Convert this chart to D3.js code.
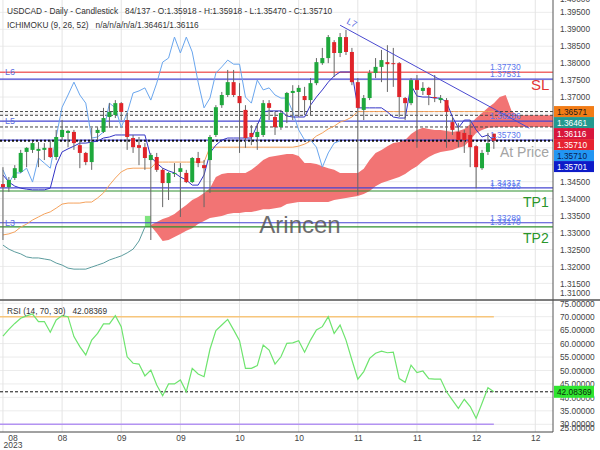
<!DOCTYPE html>
<html>
<head>
<meta charset="utf-8">
<title>USDCAD Daily</title>
<script src="https://cdn.jsdelivr.net/npm/d3@7/dist/d3.min.js"></script>
<style>
  body { margin: 0; background: #fff; }
  text { font-family: "Liberation Sans", Arial, sans-serif; }
</style>
</head>
<body>
<svg id="chart" width="600" height="450"></svg>
<script>
// ---- data (index 0 = first visible daily candle) ----
const opens = [1.3443,1.3434,1.3461,1.3479,1.3538,1.3544,1.3541,1.3544,1.3550,1.3523,
  1.3582,1.3594,1.3597,1.3558,1.3535,1.3508,1.3594,1.3597,1.3641,1.3647,
  1.3682,1.3632,1.3579,1.3558,1.3552,1.3514,1.3523,1.3485,1.3446,1.3473,
  1.3479,1.3476,1.3449,1.3520,1.3499,1.3514,1.3588,1.3676,1.3706,1.3744,
  1.3703,1.3662,1.3594,1.3582,1.3588,1.3682,1.3641,1.3611,1.3656,1.3712,
  1.3715,1.3703,1.3691,1.3741,1.3800,1.3815,1.3862,1.3830,1.3877,1.3833,
  1.3744,1.3662,1.3697,1.3771,1.3789,1.3803,1.3800,1.3800,1.3697,1.3682,
  1.3750,1.3718,1.3727,1.3700,1.3691,1.3691,1.3626,1.3597,1.3594,1.3588,
  1.3555,1.3490,1.3538,1.35918];
const highs = [1.3493,1.3464,1.3499,1.3544,1.3552,1.3567,1.3567,1.3564,1.3573,1.3603,
  1.3632,1.3603,1.3603,1.3573,1.3538,1.3609,1.3611,1.3668,1.3682,1.3691,
  1.3685,1.3653,1.3588,1.3582,1.3564,1.3535,1.3535,1.3490,1.3479,1.3505,
  1.3505,1.3485,1.3523,1.3538,1.3514,1.3588,1.3676,1.3715,1.3780,1.3780,
  1.3741,1.3676,1.3617,1.3623,1.3691,1.3691,1.3656,1.3662,1.3715,1.3735,
  1.3735,1.3730,1.3756,1.3815,1.3845,1.3883,1.3868,1.3889,1.3898,1.3845,
  1.3756,1.3706,1.3780,1.3815,1.3839,1.3853,1.3845,1.3803,1.3700,1.3756,
  1.3765,1.3744,1.3730,1.3765,1.3706,1.3697,1.3641,1.3623,1.3603,1.3632,
  1.3558,1.3544,1.3594,1.35918];
const lows = [1.3278,1.3420,1.3455,1.3476,1.3493,1.3535,1.3493,1.3514,1.3520,1.3514,
  1.3573,1.3552,1.3544,1.3490,1.3499,1.3485,1.3573,1.3594,1.3609,1.3638,
  1.3632,1.3544,1.3535,1.3499,1.3485,1.3278,1.3479,1.3375,1.3396,1.3464,
  1.3346,1.3446,1.3446,1.3493,1.3375,1.3417,1.3582,1.3668,1.3700,1.3700,
  1.3535,1.3550,1.3558,1.3544,1.3582,1.3632,1.3588,1.3603,1.3623,1.3632,
  1.3641,1.3647,1.3647,1.3735,1.3795,1.3800,1.3759,1.3818,1.3824,1.3735,
  1.3411,1.3632,1.3691,1.3756,1.3744,1.3715,1.3730,1.3641,1.3632,1.3676,
  1.3550,1.3706,1.3676,1.3685,1.3682,1.3550,1.3588,1.3552,1.3535,1.3493,
  1.3431,1.3485,1.3529,1.35470];
const closes = [1.3434,1.3455,1.3490,1.3535,1.3550,1.3564,1.3547,1.3550,1.3523,1.3582,
  1.3603,1.3600,1.3564,1.3535,1.3508,1.3567,1.3603,1.3638,1.3656,1.3682,
  1.3656,1.3582,1.3552,1.3550,1.3520,1.3529,1.3485,1.3446,1.3476,1.3476,
  1.3490,1.3449,1.3520,1.3505,1.3490,1.3582,1.3670,1.3706,1.3744,1.3706,
  1.3682,1.3579,1.3582,1.3597,1.3682,1.3668,1.3611,1.3653,1.3712,1.3718,
  1.3727,1.3691,1.3741,1.3803,1.3815,1.3877,1.3830,1.3877,1.3833,1.3744,
  1.3668,1.3697,1.3771,1.3789,1.3809,1.3797,1.3797,1.3700,1.3682,1.3750,
  1.3721,1.3727,1.3706,1.3697,1.3697,1.3656,1.3603,1.3573,1.3573,1.3552,
  1.3493,1.3535,1.3564,1.35710];

// Ichimoku (9, 26, 52)
const tenkan = [1.3470,1.3449,1.3437,1.3431,1.3428,1.3426,1.3426,1.3426,1.3431,1.3499,
  1.3538,1.3547,1.3555,1.3564,1.3564,1.3567,1.3570,1.3579,1.3582,1.3588,
  1.3588,1.3588,1.3588,1.3588,1.3588,1.3523,1.3505,1.3490,1.3482,1.3476,
  1.3464,1.3455,1.3440,1.3440,1.3470,1.3535,1.3558,1.3573,1.3579,1.3579,
  1.3579,1.3579,1.3579,1.3617,1.3656,1.3659,1.3659,1.3659,1.3644,1.3641,
  1.3641,1.3641,1.3676,1.3700,1.3721,1.3744,1.3762,1.3774,1.3774,1.3774,
  1.3668,1.3668,1.3668,1.3668,1.3668,1.3656,1.3641,1.3638,1.3638,1.3735,
  1.3703,1.3700,1.3700,1.3697,1.3697,1.3685,1.3641,1.3609,1.3632,1.3632,
  1.3603,1.3582,1.3588,1.35701];
const kijun = [1.3293,1.3296,1.3302,1.3316,1.3325,1.3337,1.3346,1.3355,1.3361,1.3372,
  1.3384,1.3387,1.3387,1.3387,1.3390,1.3390,1.3402,1.3417,1.3440,1.3461,
  1.3479,1.3488,1.3490,1.3490,1.3490,1.3490,1.3508,1.3508,1.3508,1.3508,
  1.3508,1.3508,1.3508,1.3508,1.3508,1.3552,1.3552,1.3552,1.3552,1.3552,
  1.3552,1.3552,1.3552,1.3552,1.3552,1.3552,1.3552,1.3552,1.3552,1.3552,
  1.3555,1.3561,1.3570,1.3585,1.3594,1.3606,1.3614,1.3626,1.3632,1.3641,
  1.36571,1.36571,1.36571,1.36571,1.36571,1.36571,1.36571,1.36571,1.36571,1.36571,
  1.36571,1.36571,1.36571,1.36571,1.36571,1.36571,1.36571,1.36571,1.36571,1.36571,
  1.36571,1.36571,1.36571,1.36571];
// senkou spans run 10 periods past the last candle (to the right edge)
const senkouA = [1.3263,1.3251,1.3243,1.3237,1.3228,1.3225,1.3225,1.3222,1.3219,1.3210,
  1.3204,1.3195,1.3192,1.3192,1.3192,1.3198,1.3204,1.3210,1.3219,1.3225,
  1.3231,1.3240,1.3251,1.3275,1.3316,1.3322,1.3331,1.3340,1.3346,1.3355,
  1.3369,1.3381,1.3396,1.3405,1.3417,1.3431,1.3464,1.3473,1.3476,1.3476,
  1.3476,1.3476,1.3485,1.3499,1.3514,1.3523,1.3526,1.3529,1.3532,1.3532,
  1.3526,1.3505,1.3505,1.3502,1.3496,1.3490,1.3485,1.3476,1.3476,1.3476,
  1.3476,1.3488,1.3514,1.3535,1.3544,1.3555,1.3564,1.3567,1.3573,1.3591,
  1.3603,1.3609,1.3606,1.3603,1.3603,1.3600,1.3597,1.3600,1.3606,1.3620,
  1.3638,1.3653,1.3668,1.3682,1.3700,1.3706,1.3659,1.36461,1.36461,1.36461,
  1.36461,1.36461,1.36461,1.36461];
const senkouB = [null,null,null,null,null,null,null,null,null,null,
  null,null,null,null,null,null,null,null,null,null,
  null,null,null,null,1.3349,1.3319,1.3299,1.3275,1.3278,1.3287,
  1.3296,1.3305,1.3313,1.3325,1.3334,1.3343,1.3346,1.3349,1.3355,1.3358,
  1.3358,1.3361,1.3361,1.3364,1.3369,1.3369,1.3372,1.3375,1.3384,1.3387,
  1.3390,1.3390,1.3390,1.3390,1.3390,1.3390,1.3396,1.3399,1.3402,1.3405,
  1.3408,1.3414,1.3423,1.3437,1.3446,1.3452,1.3458,1.3464,1.3473,1.3485,
  1.3496,1.3511,1.3523,1.3532,1.3538,1.3541,1.3544,1.3550,1.3555,1.3573,
  1.3594,1.3603,1.3609,1.3611,1.36116,1.36116,1.36116,1.36116,1.36116,1.36116,
  1.36116,1.36116,1.36116,1.36116];
const chikouShift = 26;

// RSI (14, 70, 30)
const rsi = [62.8,65.3,67.5,69.4,70.3,71.0,68.2,68.2,64.2,68.8,
  70.4,70.0,62.6,58.9,55.8,61.3,63.8,67.3,67.3,70.4,
  66.3,55.1,52.7,52.4,48.0,50.2,44.6,40.6,45.0,45.0,
  46.5,42.1,50.8,48.7,47.7,57.9,64.8,66.9,69.0,65.1,
  61.1,50.8,50.8,51.8,59.5,57.6,52.4,55.1,60.1,60.3,
  61.1,56.8,61.3,65.1,66.3,70.0,63.8,66.9,61.3,53.9,
  46.8,49.6,54.5,56.4,57.2,56.6,56.8,47.0,45.6,52.0,
  49.2,49.8,47.0,46.8,46.8,42.1,39.0,35.9,39.3,36.6,
  32.2,37.8,43.6,42.08369];

// drawn levels
const levelL6 = 1.37730, levelSL = 1.37531, levelL5 = 1.36286, levelNear = 1.35730;
const levelL4a = 1.34317, levelTP1 = 1.34226, levelL3 = 1.33289, levelTP2 = 1.33170;
const dashedLevels = [1.36571, 1.36461, 1.36116];
const lastPrice = 1.35710;
const trendIdx = [57, 89], trendPrice = [1.3912, 1.3608];

// axes
const priceTicks = d3.range(0, 19).map(k => +(1.31 + k * 0.005).toFixed(3));
const rsiTicks = [25, 30, 35, 40, 45, 50, 55, 60, 65, 70, 75];
const xTickIdx = [0, 10, 20, 30, 40, 50, 60, 70, 80, 90];
const xTickLabels = ["08", "08", "09", "09", "10", "10", "11", "11", "12", "12"];

// right-hand value tags
const tagValues = [1.36571, 1.36461, 1.36116, 1.35710, 1.35710, 1.35701];
const tagFill = ["#f27c16", "#23998f", "#d8163c", "#e62230", "#2196f3", "#0d1bc8"];
const tagText = ["#1a1a1a", "#fff", "#fff", "#fff", "#0b2050", "#fff"];

// ---- layout ----
const svg = d3.select("#chart");
const plotR = 553, mainBottom = 300, rsiBottom = 432;

const x = d3.scaleLinear().domain([-0.5, 93]).range([0, plotR]);
const y = d3.scaleLinear().domain([1.31, 1.40]).range([300.3, -4.6]);
const yr = d3.scaleLinear().domain([30, 70]).range([424.3, 316.7]);

const defs = svg.append("defs");
defs.append("clipPath").attr("id", "clipMain").append("rect")
  .attr("x", 0).attr("y", 0).attr("width", plotR).attr("height", mainBottom);
defs.append("clipPath").attr("id", "clipRsi").append("rect")
  .attr("x", 0).attr("y", mainBottom).attr("width", plotR).attr("height", rsiBottom - mainBottom);

// grid
const grid = svg.append("g");
grid.selectAll(".hg").data(priceTicks).enter().append("line")
  .attr("x1", 0).attr("x2", plotR).attr("y1", d => y(d)).attr("y2", d => y(d))
  .attr("stroke", "#ececec");
grid.selectAll(".rg").data(rsiTicks.filter(d => d > 25)).enter().append("line")
  .attr("x1", 0).attr("x2", plotR).attr("y1", d => yr(d)).attr("y2", d => yr(d))
  .attr("stroke", "#ececec");
grid.selectAll(".vg").data(xTickIdx).enter().append("line")
  .attr("x1", d => x(d)).attr("x2", d => x(d)).attr("y1", 0).attr("y2", rsiBottom)
  .attr("stroke", "#e4e4e4");

const main = svg.append("g").attr("clip-path", "url(#clipMain)");

// cloud (red where span A is above span B, green otherwise)
const cloudIdx = d3.range(0, senkouA.length).filter(i => senkouB[i] !== null);
main.append("path").datum(cloudIdx)
  .attr("d", d3.area().x(i => x(i)).y0(i => y(senkouB[i]))
    .y1(i => y(Math.max(senkouA[i], senkouB[i]))))
  .attr("fill", "#f27474");
main.append("path").datum(cloudIdx)
  .attr("d", d3.area().curve(d3.curveStepAfter).x(i => x(i)).y0(i => y(senkouB[i]))
    .y1(i => y(Math.min(senkouA[i], senkouB[i]))))
  .attr("fill", "#7fe47f");

// horizontal levels
function hline(p, color, width, dash) {
  main.append("line").attr("x1", 0).attr("x2", plotR)
    .attr("y1", y(p)).attr("y2", y(p))
    .attr("stroke", color).attr("stroke-width", width)
    .attr("stroke-dasharray", dash || null);
}
dashedLevels.forEach(p => hline(p, "#444", 1, "3,2"));
hline(levelL6, "#f06a6a", 1.5);
hline(levelSL, "#4646d2", 1.2);
hline(levelL5, "#4646d2", 1.2);
hline(levelNear, "#4646d2", 1.2);
hline(levelL4a, "#4646d2", 1.2);
hline(levelTP1, "#2f8f2f", 1.2);
hline(levelL3, "#4646d2", 1.2);
hline(levelTP2, "#2f8f2f", 1.2);
hline(lastPrice, "#111", 2, "2,2");

// ichimoku lines
const line = d3.line().defined(d => d[1] !== null).x(d => x(d[0])).y(d => y(d[1]));
main.append("path").datum(d3.range(0, 25).map(i => [i, senkouA[i]]))
  .attr("d", line).attr("fill", "none").attr("stroke", "#5c9c9e").attr("stroke-width", 1);
main.append("path").datum(kijun.map((v, i) => [i, v]))
  .attr("d", line).attr("fill", "none").attr("stroke", "#f5a25c").attr("stroke-width", 1);
main.append("path").datum(closes.slice(chikouShift).map((v, i) => [i, v]))
  .attr("d", line).attr("fill", "none").attr("stroke", "#6aa6ee").attr("stroke-width", 1);
main.append("path").datum(tenkan.map((v, i) => [i, v]))
  .attr("d", line).attr("fill", "none").attr("stroke", "#3434c6").attr("stroke-width", 1);

// candles
const candles = main.selectAll(".c").data(opens.map((o, i) => ({ i, o, h: highs[i], l: lows[i], c: closes[i] })))
  .enter().append("g");
candles.append("line")
  .attr("x1", d => x(d.i)).attr("x2", d => x(d.i))
  .attr("y1", d => y(d.h)).attr("y2", d => y(d.l))
  .attr("stroke", "#666").attr("stroke-width", 1);
candles.append("rect")
  .attr("x", d => x(d.i) - 2).attr("width", 4)
  .attr("y", d => y(Math.max(d.o, d.c)))
  .attr("height", d => Math.max(1, Math.abs(y(d.o) - y(d.c))))
  .attr("fill", d => d.c >= d.o ? "#1ea83c" : "#e0242a");

// trend line L7
main.append("line")
  .attr("x1", x(trendIdx[0])).attr("y1", y(trendPrice[0]))
  .attr("x2", x(trendIdx[1])).attr("y2", y(trendPrice[1]))
  .attr("stroke", "#4a4ad0").attr("stroke-width", 1);
main.append("text").attr("x", x(trendIdx[0]) + 6).attr("y", y(trendPrice[0]) - 2)
  .attr("transform", `rotate(28 ${x(trendIdx[0]) + 6} ${y(trendPrice[0]) - 2})`)
  .attr("font-size", 9).attr("fill", "#5a6ae0").text("L7");

// level labels
const lvlLabels = [[levelL6, "1.37730"], [levelSL, "1.37531"], [levelL5, "1.36286"], [levelNear, "1.35730"],
  [levelL4a, "1.34317"], [levelTP1, "1.34226"], [levelL3, "1.33289"], [levelTP2, "1.33170"]];
main.selectAll(".ll").data(lvlLabels).enter().append("text")
  .attr("x", 490).attr("y", d => y(d[0]) - 2)
  .attr("font-size", 8.5).attr("fill", "#5b78ee").text(d => d[1]);
[[levelL6, "L6"], [levelL5, "L5"], [levelL3, "L3"]].forEach(d => {
  main.append("text").attr("x", 5).attr("y", y(d[0]) + 3)
    .attr("font-size", 9).attr("fill", "#6070e0").text(d[1]);
});

// trade annotations
main.append("text").attr("x", 531).attr("y", y(levelSL) + 11).attr("font-size", 15)
  .attr("fill", "#e23434").text("SL");
main.append("text").attr("x", 523).attr("y", y(levelTP1) + 16).attr("font-size", 14)
  .attr("fill", "#2a952a").text("TP1");
main.append("text").attr("x", 523).attr("y", y(levelTP2) + 16).attr("font-size", 14)
  .attr("fill", "#2a952a").text("TP2");
main.append("text").attr("x", 500).attr("y", y(lastPrice) + 16).attr("font-size", 14)
  .attr("fill", "#a4a4a4").text("At Price");
svg.append("text").attr("x", 300).attr("y", 233).attr("text-anchor", "middle")
  .attr("font-size", 24).attr("fill", "#555").attr("opacity", 0.85).text("Arincen");

// RSI panel
const rp = svg.append("g").attr("clip-path", "url(#clipRsi)");
const rsiEnd = x(rsi.length - 1);
rp.append("line").attr("x1", 0).attr("x2", rsiEnd).attr("y1", yr(70)).attr("y2", yr(70))
  .attr("stroke", "#f7c67c").attr("stroke-width", 1.5);
rp.append("line").attr("x1", 0).attr("x2", rsiEnd).attr("y1", yr(30)).attr("y2", yr(30))
  .attr("stroke", "#b393f2").attr("stroke-width", 1.5);
rp.append("line").attr("x1", 0).attr("x2", plotR).attr("y1", yr(rsi[rsi.length - 1])).attr("y2", yr(rsi[rsi.length - 1]))
  .attr("stroke", "#111").attr("stroke-width", 1).attr("stroke-dasharray", "3,2");
rp.append("path").datum(rsi)
  .attr("d", d3.line().x((d, i) => x(i)).y(d => yr(d)))
  .attr("fill", "none").attr("stroke", "#6ee46e").attr("stroke-width", 1.2);

// frame
svg.append("line").attr("x1", 0).attr("x2", 600).attr("y1", mainBottom).attr("y2", mainBottom)
  .attr("stroke", "#555").attr("stroke-width", 1.5);
svg.append("line").attr("x1", 0).attr("x2", plotR).attr("y1", rsiBottom).attr("y2", rsiBottom)
  .attr("stroke", "#444").attr("stroke-width", 1);
svg.append("line").attr("x1", plotR).attr("x2", plotR).attr("y1", 0).attr("y2", rsiBottom)
  .attr("stroke", "#555").attr("stroke-width", 1);

// headers
const hdr = [[14, "USDCAD - Daily - Candlestick   84/137 - O:1.35918 - H:1.35918 - L:1.35470 - C:1.35710"],
  [28, "ICHIMOKU (9, 26, 52)   n/a/n/a/n/a/1.36461/1.36116"],
  [314, "RSI (14, 70, 30)   42.08369"]];
hdr.forEach(h => svg.append("text").attr("x", 7).attr("y", h[0]).attr("font-size", 8.3)
  .attr("fill", "#333").style("white-space", "pre").text(h[1]));

// price axis
const pAxis = svg.append("g").attr("transform", `translate(${plotR},0)`)
  .call(d3.axisRight(y).tickValues(priceTicks).tickFormat(d3.format(".5f")).tickSize(0).tickPadding(7));
pAxis.select(".domain").remove();
pAxis.selectAll(".tick").filter(d => d === 1.31).attr("transform", "translate(0,293)");
pAxis.selectAll(".tick").filter(d => d === 1.40).attr("transform", "translate(0,-0.5)");
const rAxis = svg.append("g").attr("transform", `translate(${plotR},0)`)
  .call(d3.axisRight(yr).tickValues(rsiTicks).tickFormat(d3.format(".5f")).tickSize(0).tickPadding(7));
rAxis.select(".domain").remove();
rAxis.selectAll(".tick").filter(d => d === 25).attr("transform", "translate(0,428)");
rAxis.selectAll(".tick").filter(d => d === 75).attr("transform", `translate(0,${yr(75) + 1})`);
[pAxis, rAxis].forEach(g => g.attr("font-size", 8.3).attr("font-family", "Liberation Sans, Arial, sans-serif")
  .selectAll("text").attr("fill", "#444"));

const xAxis = svg.append("g").attr("transform", `translate(0,${rsiBottom})`)
  .call(d3.axisBottom(x).tickValues(xTickIdx).tickFormat((d, k) => xTickLabels[k]).tickSize(0).tickPadding(3));
xAxis.select(".domain").remove();
xAxis.attr("font-size", 8.5).attr("font-family", "Liberation Sans, Arial, sans-serif")
  .selectAll("text").attr("fill", "#444");
xAxis.selectAll(".tick").filter(d => d === 0).attr("transform", `translate(${x(0) + 10},0)`)
  .append("text").attr("y", 10).attr("dy", "0.71em").attr("fill", "#444").text("2023");

// value tags on the price axis (stacked so they do not overlap)
let prevY = -Infinity;
const tagH = 11;
tagValues.forEach((v, k) => {
  const cy = Math.max(y(v), prevY + tagH);
  prevY = cy;
  svg.append("rect").attr("x", plotR + 1).attr("y", cy - tagH / 2).attr("width", 40).attr("height", tagH)
    .attr("fill", tagFill[k]);
  svg.append("text").attr("x", plotR + 4).attr("y", cy + 3).attr("font-size", 8.3)
    .attr("fill", tagText[k]).text(v.toFixed(5));
});
const rsiLast = rsi[rsi.length - 1];
svg.append("rect").attr("x", plotR + 1).attr("y", yr(rsiLast) - 6).attr("width", 40).attr("height", 12)
  .attr("fill", "#2fe52f");
svg.append("text").attr("x", plotR + 4).attr("y", yr(rsiLast) + 3).attr("font-size", 8.3)
  .attr("fill", "#0a2a0a").text(rsiLast.toFixed(5));
</script>
</body>
</html>
